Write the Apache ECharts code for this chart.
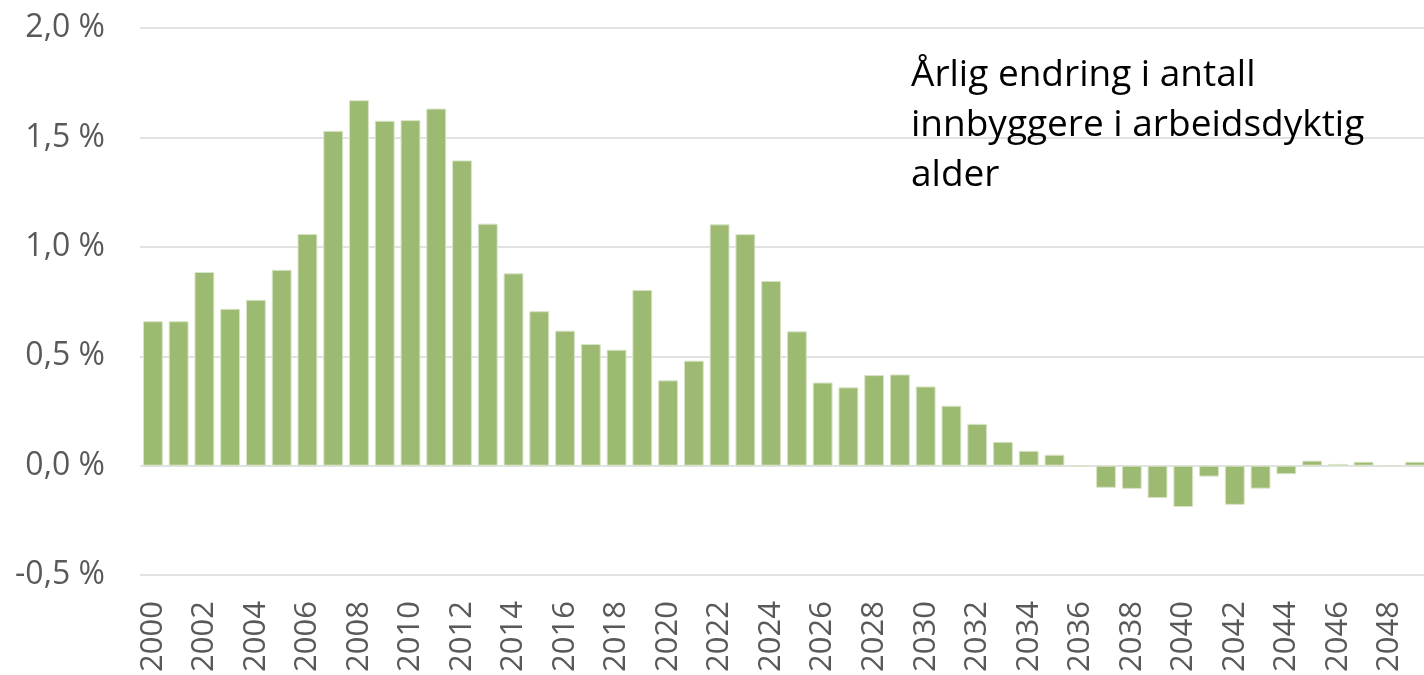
<!DOCTYPE html>
<html>
<head>
<meta charset="utf-8">
<script src="https://cdn.jsdelivr.net/npm/echarts@6/dist/echarts.min.js"></script>
<style>
  html, body { margin: 0; padding: 0; background: #fff; overflow: hidden; }
  #chart { width: 1428px; height: 675px; }
</style>
</head>
<body>
<div id="chart"></div>
<script>
// år 2000-2049
const years = []
for (let y = 2000; y <= 2049; y++) years.push(String(y))

// årlig endring, prosent
const change = [
  0.66, 0.66, 0.885, 0.717, 0.758, 0.895, 1.059, 1.530, 1.670, 1.576,
  1.579, 1.632, 1.395, 1.106, 0.879, 0.706, 0.617, 0.556, 0.530, 0.803,
  0.390, 0.480, 1.103, 1.058, 0.844, 0.614, 0.380, 0.358, 0.414, 0.417,
  0.362, 0.274, 0.191, 0.109, 0.068, 0.050, -0.005, -0.101, -0.106, -0.148,
  -0.189, -0.050, -0.179, -0.105, -0.039, 0.023, 0.008, 0.018, 0, 0.018
]

const titleLines = ['Årlig endring i antall', 'innbyggere i arbeidsdyktig', 'alder']

const chart = echarts.init(document.getElementById('chart'))

const option = {
  animation: false,
  title: {
    text: titleLines.join('\n'),
    left: 906,
    top: 45,
    textStyle: {
      fontFamily: 'Open Sans',
      fontSize: 37,
      fontWeight: 'normal',
      color: '#000',
      lineHeight: 50
    }
  },
  grid: {
    left: 140,
    right: 0,
    top: 28,
    bottom: 99
  },
  xAxis: {
    type: 'category',
    data: years,
    axisLine: { show: false, onZero: false },
    axisTick: { show: false },
    axisLabel: {
      interval: 1,
      rotate: 90,
      margin: 26,
      fontFamily: 'Open Sans',
      fontSize: 31,
      color: '#595959'
    }
  },
  yAxis: {
    type: 'value',
    min: -0.5,
    max: 2.0,
    interval: 0.5,
    axisLine: { show: false },
    axisTick: { show: false },
    splitLine: { lineStyle: { color: '#d9d9d9', width: 1.5 } },
    axisLabel: {
      margin: 35,
      fontFamily: 'Open Sans',
      fontSize: 32,
      color: '#595959',
      formatter: v => v.toFixed(1).replace('.', ',') + ' %'
    }
  },
  series: [
    {
      type: 'bar',
      data: change,
      barCategoryGap: '23%',
      itemStyle: {
        color: '#9dba72',
        borderColor: '#d8e4c6',
        borderWidth: 1
      }
    }
  ]
}

chart.setOption(option)
</script>
</body>
</html>
